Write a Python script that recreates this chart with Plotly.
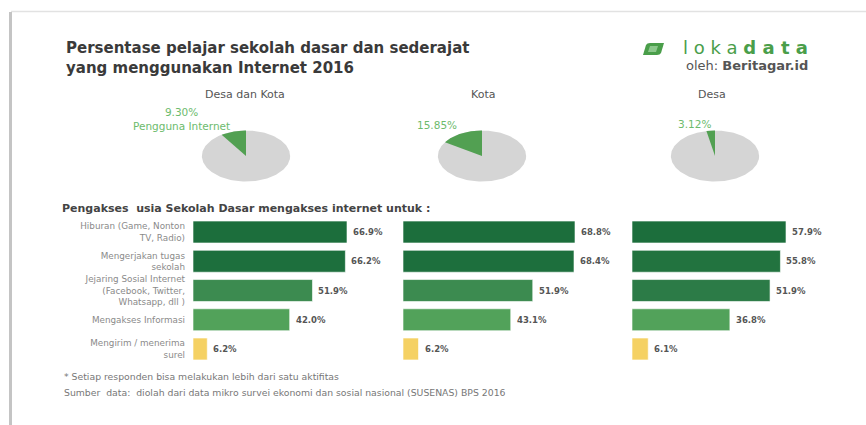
import numpy as np
import plotly.graph_objects as go

W, H = 866, 425

# ---------------- data ----------------
regions = ["Desa dan Kota", "Kota", "Desa"]
internet_share = [9.30, 15.85, 3.12]
pie_labels = ["9.30%<br>Pengguna Internet", "15.85%", "3.12%"]

activities = [
    "Hiburan (Game, Nonton<br>TV, Radio)",
    "Mengerjakan tugas<br>sekolah",
    "Jejaring Sosial Internet<br>(Facebook, Twitter,<br>Whatsapp, dll )",
    "Mengakses Informasi",
    "Mengirim / menerima<br>surel",
]
vals_desa_kota = [66.9, 66.2, 51.9, 42.0, 6.2]
vals_kota = [68.8, 68.4, 51.9, 43.1, 6.2]
vals_desa = [57.9, 55.8, 51.9, 36.8, 6.1]
panel_values = [vals_desa_kota, vals_kota, vals_desa]

bar_colors = [
    ["#1c6e3c", "#1d6f3d", "#3c8b50", "#52a25a", "#f5d163"],
    ["#1c6e3c", "#1d6f3d", "#3c8b50", "#52a25a", "#f5d163"],
    ["#1c6e3c", "#22733f", "#2c7b47", "#52a25a", "#f5d163"],
]

# ---------------- helpers ----------------
def px(x):
    return x / W

def py(y):
    return 1 - y / H

FONT = "DejaVu Sans"
fig = go.Figure()

# ---------------- bars ----------------
bar_x0 = [193, 403, 632]
px_per_pct = [2.302, 2.50, 2.66]
bar_w = 180
row_top, row_bot = 217.4, 363.6

for i, vals in enumerate(panel_values):
    ax = "" if i == 0 else str(i + 1)
    fig.add_trace(go.Bar(
        x=vals, y=activities, orientation="h",
        marker=dict(color=bar_colors[i], line=dict(color="rgba(255,255,255,0.6)", width=1)),
        width=0.75, xaxis="x" + ax, yaxis="y" + ax, showlegend=False,
        hoverinfo="x+y",
    ))
    fig.update_layout(**{
        "xaxis" + ax: dict(domain=[px(bar_x0[i]), px(bar_x0[i] + bar_w)],
                           range=[0, bar_w / px_per_pct[i]], visible=False,
                           anchor="y" + ax),
        "yaxis" + ax: dict(domain=[py(row_bot), py(row_top)], type="category",
                           range=[4.5, -0.5], anchor="x" + ax,
                           showticklabels=(i == 0), ticks="", showgrid=False,
                           zeroline=False, showline=False,
                           ticklabelstandoff=7,
                           tickfont=dict(family=FONT, size=8.8, color="#8a8a8a")),
    })
    for a, v in zip(activities, vals):
        fig.add_annotation(x=v, y=a, xref="x" + ax, yref="y" + ax,
                           text=f"<b>{v:.1f}%</b>", showarrow=False,
                           xanchor="left", xshift=4,
                           font=dict(family=FONT, size=8.5, color="#555"))

# ---------------- pies (ellipses) ----------------
pie_x = [(201, 291), (437, 527), (670, 760)]
pie_y = (130, 182)
for i, share in enumerate(internet_share):
    k = i + 4
    t = np.linspace(0, 2 * np.pi, 200)
    fig.add_trace(go.Scatter(x=np.cos(t), y=np.sin(t), fill="toself",
                             fillcolor="#d5d5d5", line=dict(width=0, color="#d5d5d5"),
                             mode="lines", xaxis=f"x{k}", yaxis=f"y{k}",
                             showlegend=False, hoverinfo="skip"))
    a0 = np.pi / 2
    a1 = a0 + share / 100 * 2 * np.pi
    tw = np.linspace(a0, a1, 40)
    wx = np.concatenate([[0], np.cos(tw), [0]])
    wy = np.concatenate([[0], np.sin(tw), [0]])
    fig.add_trace(go.Scatter(x=wx, y=wy, fill="toself", fillcolor="#52a052",
                             line=dict(width=0, color="#52a052"), mode="lines",
                             xaxis=f"x{k}", yaxis=f"y{k}", showlegend=False,
                             name=regions[i], hoverinfo="name"))
    fig.update_layout(**{
        f"xaxis{k}": dict(domain=[px(pie_x[i][0]), px(pie_x[i][1])], range=[-1.02, 1.02],
                          visible=False, anchor=f"y{k}"),
        f"yaxis{k}": dict(domain=[py(pie_y[1]), py(pie_y[0])], range=[-1.02, 1.02],
                          visible=False, anchor=f"x{k}"),
    })

# pie titles & labels
title_x = [245, 483, 712]
for i, r in enumerate(regions):
    fig.add_annotation(x=px(title_x[i]), y=py(94), xref="paper", yref="paper",
                       text=r, showarrow=False, xanchor="center", yanchor="middle",
                       font=dict(family=FONT, size=11, color="#555"))
label_pos = [(181, 118.5), (437, 125), (694, 124)]
for i, lab in enumerate(pie_labels):
    fig.add_annotation(x=px(label_pos[i][0]), y=py(label_pos[i][1]), xref="paper",
                       yref="paper", text=lab, showarrow=False, xanchor="center",
                       yanchor="middle", align="center",
                       font=dict(family=FONT, size=10.5, color="#6dbb6d"))

# ---------------- texts ----------------
fig.add_annotation(x=px(64), y=py(58), xref="paper", yref="paper",
                   text="<b>Persentase pelajar sekolah dasar dan sederajat<br>yang menggunakan Internet 2016</b>",
                   showarrow=False, xanchor="left", yanchor="middle", align="left",
                   font=dict(family=FONT, size=15, color="#3a3a3a"))
fig.add_annotation(x=px(60), y=py(208), xref="paper", yref="paper",
                   text="<b>Pengakses  usia Sekolah Dasar mengakses internet untuk :</b>",
                   showarrow=False, xanchor="left", yanchor="middle",
                   font=dict(family=FONT, size=11, color="#444"))
fig.add_annotation(x=px(62), y=py(376), xref="paper", yref="paper",
                   text="* Setiap responden bisa melakukan lebih dari satu aktifitas",
                   showarrow=False, xanchor="left", yanchor="middle",
                   font=dict(family=FONT, size=9.3, color="#777"))
fig.add_annotation(x=px(62), y=py(392), xref="paper", yref="paper",
                   text="Sumber  data:  diolah dari data mikro survei ekonomi dan sosial nasional (SUSENAS) BPS 2016",
                   showarrow=False, xanchor="left", yanchor="middle",
                   font=dict(family=FONT, size=9.3, color="#777"))

# logo
fig.add_annotation(x=px(810), y=py(48), xref="paper", yref="paper",
                   text="l o k a <b>d a t a</b>", showarrow=False,
                   xanchor="right", yanchor="middle",
                   font=dict(family=FONT, size=18, color="#4a9e4a"))
fig.add_annotation(x=px(810), y=py(65), xref="paper", yref="paper",
                   text="oleh: <b>Beritagar.id</b>", showarrow=False,
                   xanchor="right", yanchor="middle",
                   font=dict(family=FONT, size=13, color="#555"))

shapes = [
    # leaf icon
    dict(type="path", xref="paper", yref="paper",
         path=f"M {px(643)},{py(55)} L {px(646)},{py(45)} Q {px(647)},{py(43)} {px(650)},{py(43)} "
              f"L {px(664)},{py(43)} L {px(661)},{py(53)} Q {px(660)},{py(55)} {px(657)},{py(55)} Z",
         fillcolor="#4a9e4a", line=dict(width=0)),
    dict(type="path", xref="paper", yref="paper",
         path=f"M {px(648)},{py(52)} L {px(650)},{py(46)} L {px(658)},{py(46)} L {px(656)},{py(52)} Z",
         fillcolor="#8cc88c", line=dict(width=0)),
    # card frame
    dict(type="line", xref="paper", yref="paper", x0=px(11), x1=1.01, y0=py(11.5), y1=py(11.5),
         line=dict(color="#e2e2e2", width=1.5)),
    dict(type="line", xref="paper", yref="paper", x0=px(10.5), x1=px(10.5), y0=py(12), y1=-0.01,
         line=dict(color="#c4c4c4", width=3)),
]

fig.update_layout(
    width=W, height=H, margin=dict(l=0, r=0, t=0, b=0),
    paper_bgcolor="white", plot_bgcolor="white",
    shapes=shapes, showlegend=False, bargap=0.25,
    font=dict(family=FONT),
)

fig.write_html("out.html")
